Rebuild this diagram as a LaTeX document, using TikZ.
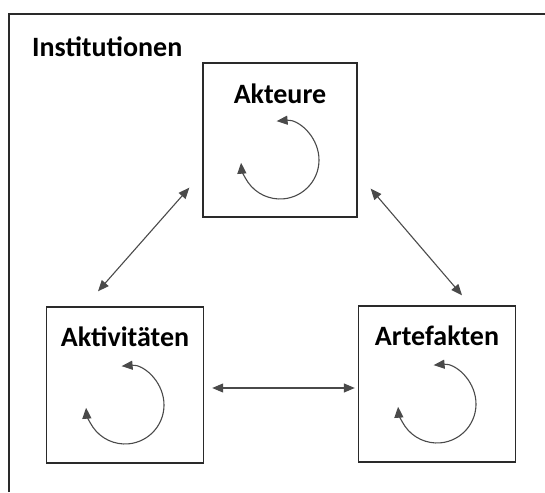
\documentclass[tikz,border=0pt]{standalone}
\usepackage{fontspec}
\setmainfont{Carlito}
\usetikzlibrary{arrows.meta,positioning}
\definecolor{framegray}{HTML}{2A2A2A}
\definecolor{arrowgray}{HTML}{4A4A4A}
\begin{document}
\begin{tikzpicture}[x=1pt,y=1pt,
	box/.style={draw=framegray, line width=1.4pt, minimum width=157pt, minimum height=156pt, inner sep=0pt},
	lbl/.style={font=\fontsize{28}{32}\selectfont\bfseries, inner sep=0pt},
	cycle/.style={draw=arrowgray, line width=1.1pt, {Triangle[length=11pt,width=9pt]}-{Triangle[length=11pt,width=9pt]}},
	link/.style={draw=arrowgray, line width=1.1pt, {Triangle[length=11pt,width=9pt]}-{Triangle[length=11pt,width=9pt]}}]
	\def\rad{39}
	\useasboundingbox (0,0) rectangle (545,492);
	
	\draw[framegray, line width=1.3pt] (9,0) -- (9,478) -- (545,478);
	\node[lbl, anchor=west] (inst) at (32,445) {Institutionen};
	
	\node[box, minimum width=154pt, minimum height=154pt] (akteure) at (280,352) {};
	\node[box] (aktiv) at (125,107) {};
	\node[box] (artef) at (437,108) {};
	
	\node[lbl] (lakteure) at ([yshift=-31]akteure.north) {Akteure};
	\node[lbl] (laktiv) at ([yshift=-30]aktiv.north) {Aktivitäten};
	\node[lbl] (lartef) at ([yshift=-30]artef.north) {Artefakten};
	
	% kreislaeufe
	\foreach \b in {akteure,aktiv,artef}{
		\coordinate (c\b) at ([yshift=-20]\b.center);
		\draw[cycle] ([shift={(95:\rad)}]c\b) arc [start angle=95, end angle=-176, radius=\rad];
	}
	
	\coordinate (p1) at ([xshift=-27,yshift=15]aktiv.north);
	\coordinate (p2) at ([xshift=-13,yshift=30]akteure.south west);
	\coordinate (p3) at ([xshift=13,yshift=29]akteure.south east);
	\coordinate (p4) at ([xshift=25,yshift=10]artef.north);
	\coordinate (p5) at ([xshift=8,yshift=-3]aktiv.east);
	\coordinate (p6) at (artef.west |- p5);
	\draw[link] (p1) -- (p2);
	\draw[link] (p3) -- (p4);
	\draw[link] (p5) -- ([xshift=-3]p6);
\end{tikzpicture}
\end{document}
